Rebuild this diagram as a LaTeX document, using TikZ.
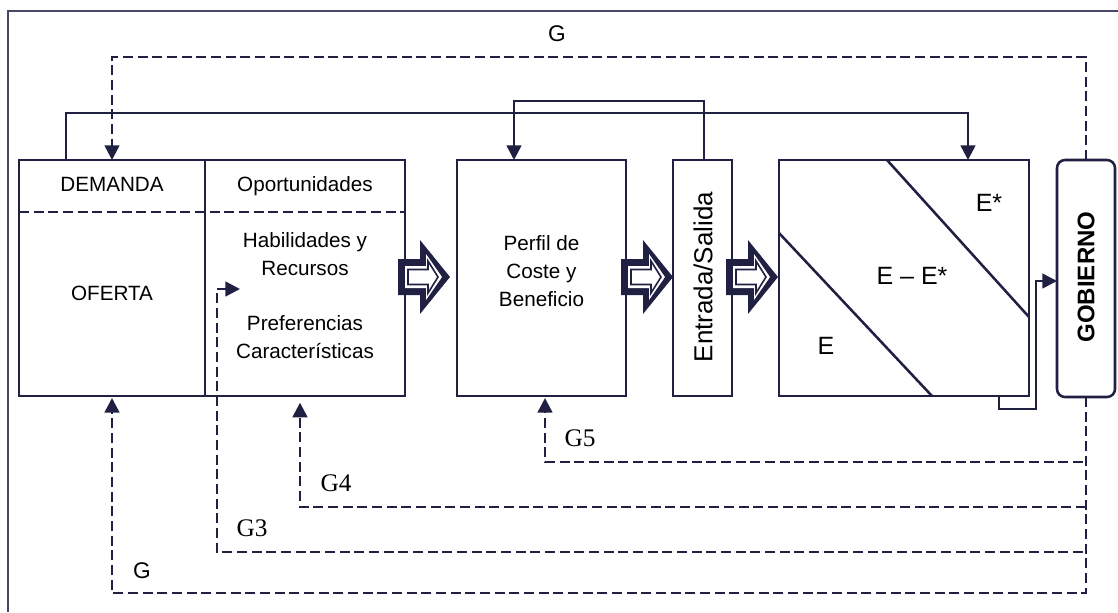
\documentclass[tikz,border=0pt]{standalone}
\usepackage{fontspec}
\setmainfont{Liberation Sans}
\newfontfamily\serifG{Liberation Serif}
\usetikzlibrary{arrows.meta}
\definecolor{ink}{RGB}{31,32,66}
\definecolor{framecol}{RGB}{70,72,105}

\begin{document}
\begin{tikzpicture}[x=0.75pt,y=-0.75pt,
  box/.style={draw=ink, line width=1.9pt, inner sep=0pt, outer sep=0pt},
  conn/.style={draw=ink, line width=1.9pt, -{Triangle[length=11pt,width=11pt]}},
  dconn/.style={conn, dash pattern=on 7.5pt off 3.5pt},
  dline/.style={draw=ink, line width=1.9pt, dash pattern=on 7.5pt off 3.5pt},
  lbl/.style={font=\fontsize{15.5}{21}\selectfont, align=center, inner sep=0pt},
  elbl/.style={font=\fontsize{18.75}{22}\selectfont, inner sep=0pt},
  glbl/.style={font=\fontsize{17}{20}\selectfont, inner sep=0pt},
  gslbl/.style={font=\serifG\fontsize{19}{22}\selectfont, inner sep=0pt},
  bigarrow/.pic={
    \fill[ink] (0,-18) -- (22,-18) -- (22,-37) -- (52,0) -- (22,37) -- (22,18) -- (0,18) -- cycle;
    \fill[white] (7,-11) -- (28,-11) -- (28,-23) -- (44,0) -- (28,23) -- (28,11) -- (7,11) -- cycle;
    \draw[ink, line width=1.2pt, fill=white] (10,-7.5) -- (30,-7.5) -- (30,-16) -- (40,0) -- (30,16) -- (30,7.5) -- (10,7.5) -- cycle;
  }]
\useasboundingbox (0,0) rectangle (1118,612);

% outer frame
\draw[framecol, line width=1.4pt] (1118,11) -- (8,11) -- (8,612);

% boxes
\node[box, minimum width=139.5pt, minimum height=177pt] (dem) at (112,278) {};
\node[box, minimum width=150pt, minimum height=177pt] (opo) at (305,278) {};
\node[box, minimum width=126.75pt, minimum height=177pt] (perfil) at (541.5,278) {};
\node[box, minimum width=44.25pt, minimum height=177pt] (io) at (702.5,278) {};
\node[box, minimum width=187.5pt, minimum height=177pt] (ebox) at (904,278) {};
\node[box, rounded corners=6pt, minimum width=43.5pt, minimum height=177.75pt] (gob) at (1086,278.5) {};

% dashed split of the market box
\coordinate (split) at (0,212);
\draw[dline] (dem.west |- split) -- (opo.east |- split);

% diagonals of the E box
\coordinate (u1) at (887,160);
\coordinate (u2) at (1029,317);
\coordinate (l1) at (779,233);
\coordinate (l2) at (932,396);
\draw[ink, line width=1.9pt] (u1) -- (u2);
\draw[ink, line width=1.9pt] (l1) -- (l2);

% texts
\node[lbl, anchor=base] (tDem) at (112,191) {DEMANDA};
\node[lbl, anchor=base] (tOpo) at (305,191) {Oportunidades};
\node[lbl, anchor=base] (tOfe) at (112,300) {OFERTA};
\node[lbl] (tHab) at (305,254) {Habilidades y\\Recursos};
\node[lbl] (tPre) at (305,337) {Preferencias\\Características};
\node[lbl] (tPer) at (541.5,271) {Perfil de\\Coste y\\Beneficio};
\node[rotate=90, font=\fontsize{19.5}{22}\selectfont, inner sep=0pt] (tIO) at (703,277) {Entrada/Salida};
\node[rotate=90, font=\bfseries\fontsize{18}{20}\selectfont, inner sep=0pt] (tGob) at (1086,277) {GOBIERNO};
\node[elbl, anchor=base] (tEs) at (989,211) {E*};
\node[elbl, anchor=base] (tEm) at (912,284) {E -- E*};
\node[elbl, anchor=base] (tE) at (826,354) {E};
\node[glbl, anchor=base] (tGtop) at (557,41) {G};
\node[glbl, anchor=base] (tGbot) at (142,578) {G};
\node[gslbl, anchor=base] (tG3) at (252,536) {G3};
\node[gslbl, anchor=base] (tG4) at (336,491) {G4};
\node[gslbl, anchor=base] (tG5) at (580,446) {G5};

% flow arrows
\pic at (398,277) {bigarrow};
\pic at (621,277) {bigarrow};
\pic at (726,277) {bigarrow};

% solid feedback connectors
\coordinate (a1) at (66,113);
\coordinate (a2) at (968,113);
\draw[conn] (dem.north -| a1) -- (a1) -- (a2) -- (ebox.north -| a2);
\coordinate (b1) at (704,101);
\coordinate (b2) at (514,101);
\draw[conn] (io.north -| b1) -- (b1) -- (b2) -- (perfil.north -| b2);
\coordinate (c1) at (999,409);
\coordinate (c2) at (1036,409);
\coordinate (c3) at (1036,281);
\draw[conn] (ebox.south -| c1) -- (c1) -- (c2) -- (c3) -- (gob.west |- c3);

% government actions (dashed)
\coordinate (d1) at (1086,57);
\coordinate (d2) at (112,57);
\draw[dconn] (gob.north) -- (d1) -- (d2) -- (dem.north -| d2);
\coordinate (t1) at (1086,593);
\coordinate (t2) at (112,593);
\draw[dconn, shorten >=1.5pt] (gob.south) -- (t1) -- (t2) -- (dem.south -| t2);
\coordinate (g5r) at (1083,462);
\coordinate (g5l) at (545,462);
\draw[dconn, shorten >=1.5pt] (g5r) -- (g5l) -- (perfil.south -| g5l);
\coordinate (g4r) at (1086,507);
\coordinate (g4l) at (300,507);
\draw[dconn, shorten >=5pt] (g4r) -- (g4l) -- (opo.south -| g4l);
\coordinate (g3r) at (1083,552);
\coordinate (g3l) at (217,552);
\coordinate (g3u) at (217,289);
\coordinate (g3e) at (240,289);
\draw[dconn] (g3r) -- (g3l) -- (g3u) -- (g3e);
\end{tikzpicture}
\end{document}
